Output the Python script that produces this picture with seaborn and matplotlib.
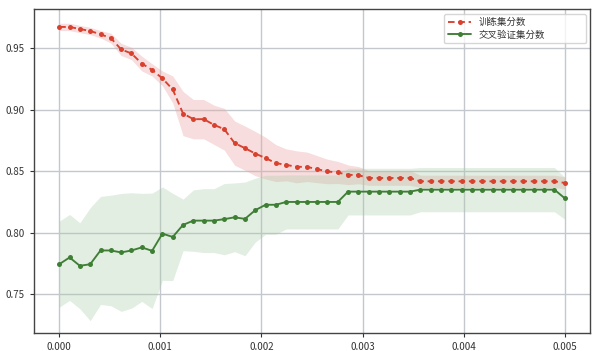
import numpy as np
import pandas as pd
import matplotlib
matplotlib.use("Agg")
import matplotlib.pyplot as plt
import seaborn as sns

# ---- data ----
alpha_values = np.linspace(0, 0.005, 50)

train_mean = [0.9675, 0.9675, 0.9658, 0.9642, 0.9615, 0.9584, 0.9492, 0.9459, 0.9377, 0.9325,
              0.9256, 0.9166, 0.8970, 0.8924, 0.8924, 0.8878, 0.8842, 0.8729, 0.8688, 0.8644,
              0.8607, 0.8566, 0.8552, 0.8536, 0.8536, 0.8517, 0.8498, 0.8490, 0.8471, 0.8468,
              0.8445, 0.8445, 0.8445, 0.8445, 0.8445, 0.8418, 0.8418, 0.8418, 0.8418, 0.8418,
              0.8418, 0.8418, 0.8418, 0.8418, 0.8418, 0.8418, 0.8418, 0.8418, 0.8418, 0.8405]
train_std = [0.003, 0.003, 0.003, 0.003, 0.003, 0.004, 0.005, 0.005, 0.006, 0.005,
             0.006, 0.011, 0.018, 0.016, 0.016, 0.016, 0.017, 0.018, 0.018, 0.018,
             0.017, 0.015, 0.013, 0.013, 0.012, 0.011, 0.010, 0.009, 0.008, 0.007,
             0.006, 0.006, 0.006, 0.006, 0.006, 0.005, 0.005, 0.005, 0.005, 0.005,
             0.005, 0.005, 0.005, 0.005, 0.005, 0.005, 0.005, 0.005, 0.005, 0.005]

cv_mean = [0.7743, 0.7798, 0.7730, 0.7743, 0.7855, 0.7855, 0.7839, 0.7855, 0.7880, 0.7852,
           0.7992, 0.7965, 0.8063, 0.8098, 0.8098, 0.8098, 0.8110, 0.8125, 0.8112, 0.8183,
           0.8227, 0.8227, 0.8250, 0.8250, 0.8250, 0.8250, 0.8250, 0.8250, 0.8334, 0.8334,
           0.8334, 0.8334, 0.8334, 0.8334, 0.8334, 0.8350, 0.8350, 0.8350, 0.8350, 0.8350,
           0.8350, 0.8350, 0.8350, 0.8350, 0.8350, 0.8350, 0.8350, 0.8350, 0.8350, 0.8280]
cv_std = [0.035, 0.035, 0.035, 0.046, 0.044, 0.045, 0.048, 0.047, 0.044, 0.047,
          0.038, 0.0355, 0.021, 0.025, 0.026, 0.026, 0.029, 0.028, 0.030, 0.026,
          0.024, 0.024, 0.022, 0.022, 0.022, 0.022, 0.022, 0.022, 0.019, 0.019,
          0.019, 0.019, 0.019, 0.019, 0.019, 0.018, 0.018, 0.018, 0.018, 0.018,
          0.018, 0.018, 0.018, 0.018, 0.018, 0.018, 0.018, 0.018, 0.018, 0.017]

train_label = "训练集分数"
cv_label = "交叉验证集分数"
x_ticks = [0.000, 0.001, 0.002, 0.003, 0.004, 0.005]
y_ticks = [0.75, 0.80, 0.85, 0.90, 0.95]

df = pd.DataFrame({
    "alpha": alpha_values,
    "train": train_mean, "train_std": train_std,
    "cv": cv_mean, "cv_std": cv_std,
})

# ---- style ----
sns.set_style("ticks")
plt.rcParams["font.family"] = ["Noto Sans CJK SC", "DejaVu Sans"]
plt.rcParams["axes.unicode_minus"] = False

RED = "#d9412f"
GREEN = "#3f7f35"

fig = plt.figure(figsize=(5.96, 3.51), dpi=100)
ax = fig.add_axes([0.057, 0.052, 0.933, 0.922])

ax.fill_between(df["alpha"], df["train"] - df["train_std"], df["train"] + df["train_std"],
                color="#eaa6a6", alpha=0.38, linewidth=0)
ax.fill_between(df["alpha"], df["cv"] - df["cv_std"], df["cv"] + df["cv_std"],
                color="#a8cca8", alpha=0.33, linewidth=0)

sns.lineplot(data=df, x="alpha", y="train", ax=ax, color=RED, linestyle=(0, (3.5, 2)),
             marker="o", markersize=3.6, markeredgewidth=0, linewidth=1.35, label=train_label)
sns.lineplot(data=df, x="alpha", y="cv", ax=ax, color=GREEN, linestyle="-",
             marker="o", markersize=3.6, markeredgewidth=0, linewidth=1.35, label=cv_label)

ax.set_xticks(x_ticks)
ax.set_xticklabels([f"{v:.3f}" for v in x_ticks])
ax.set_yticks(y_ticks)
ax.set_yticklabels([f"{v:.2f}" for v in y_ticks])
ax.set_xlim(-0.00025, 0.00525)
ax.set_ylim(0.7185, 0.982)
ax.set_xlabel("")
ax.set_ylabel("")

ax.grid(True, color="#c4c8cc", linewidth=1.0)
ax.set_axisbelow(True)
for s in ax.spines.values():
    s.set_visible(True)
    s.set_color("#444444")
    s.set_linewidth(1.0)
ax.tick_params(axis="both", labelsize=7, length=3, width=0.8, colors="#333333", direction="out")

leg = ax.legend(loc="upper left", bbox_to_anchor=(0.7374, 0.0, 0.2545, 0.985), mode="expand",
                borderaxespad=0, fontsize=6.8, handlelength=2.5, frameon=True, fancybox=True,
                edgecolor="#cccccc", labelspacing=0.35)
for t in leg.get_texts():
    t.set_color("#333333")

fig.savefig("out.png", dpi=100)
